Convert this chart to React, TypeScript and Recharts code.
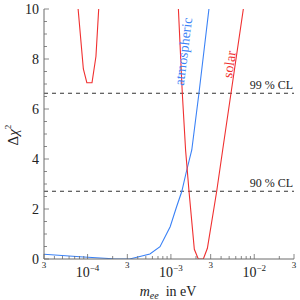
import React from 'react';
import { LineChart, Line, XAxis, YAxis, ReferenceLine } from 'recharts';

const FONT = "'Liberation Serif', 'Times New Roman', 'DejaVu Serif', serif";
const FRAME = '#6a6a6a';
const INK = '#222';

// chi^2 curves, m_ee in eV
const solarLowM = [7.7e-5, 8.9e-5, 9.8e-5, 1.13e-4, 1.26e-4, 1.36e-4];
const solarLowChi = [10, 7.6, 7.05, 7.05, 8.1, 10];

const solarM = [1.23e-3, 1.37e-3, 1.5e-3, 1.65e-3, 1.91e-3, 2.13e-3, 2.45e-3, 2.74e-3, 3.54e-3, 4.18e-3, 5.26e-3, 7.4e-3];
const solarChi = [10, 6.63, 4.36, 2.7, 0.39, 0, 0, 0.43, 2.7, 4.36, 6.63, 10];

const atmoM = [3e-5, 8.1e-5, 2.0e-4, 3.2e-4, 3.9e-4, 5.6e-4, 7.4e-4, 9.8e-4, 1.17e-3, 1.35e-3, 1.52e-3, 1.78e-3, 2.17e-3, 2.86e-3];
const atmoChi = [0.19, 0.09, 0.01, 0, 0.07, 0.2, 0.49, 1.29, 2.09, 2.7, 3.44, 4.36, 6.63, 10];

const cl99 = 6.63;
const cl90 = 2.71;

const xTicks = [
  3e-5, 4e-5, 5e-5, 6e-5, 7e-5, 8e-5, 9e-5,
  1e-4, 2e-4, 3e-4, 4e-4, 5e-4, 6e-4, 7e-4, 8e-4, 9e-4,
  1e-3, 2e-3, 3e-3, 4e-3, 5e-3, 6e-3, 7e-3, 8e-3, 9e-3,
  1e-2, 2e-2, 3e-2,
];
const yTicks = [0, 0.5, 1, 1.5, 2, 2.5, 3, 3.5, 4, 4.5, 5, 5.5, 6, 6.5, 7, 7.5, 8, 8.5, 9, 9.5, 10];

const toRows = (xs: number[], ys: number[]) => xs.map((m, i) => ({ m, chi: ys[i] }));

function mantissa(v: number) {
  const e = Math.floor(Math.log10(v) + 1e-9);
  return { e, m: Math.round(v / Math.pow(10, e)) };
}

// eslint-disable-next-line @typescript-eslint/no-explicit-any
function XTick(props: any) {
  const { x, y, payload, top } = props;
  const { e, m } = mantissa(payload.value);
  const major = m === 1 || m === 3;
  const len = major ? 5 : 3;
  const dir = top ? 1 : -1;
  return (
    <g>
      <line x1={x} y1={y} x2={x} y2={y + dir * len} stroke={FRAME} strokeWidth={0.8} />
      {!top && m === 3 && (
        <text x={x} y={y + 9} textAnchor="middle" fontSize={9} style={{ fontFamily: FONT }} fill={INK}>3</text>
      )}
      {!top && m === 1 && (
        <text x={x} y={y + 18} textAnchor="middle" fontSize={14} style={{ fontFamily: FONT }} fill={INK}>
          10<tspan dy={-6} fontSize={9}>{'\u2212' + Math.abs(e)}</tspan>
        </text>
      )}
    </g>
  );
}

// eslint-disable-next-line @typescript-eslint/no-explicit-any
function YTick(props: any) {
  const { x, y, payload, right } = props;
  const v = payload.value;
  const major = v % 2 === 0;
  const len = major ? 5 : 3;
  const dir = right ? -1 : 1;
  return (
    <g>
      <line x1={x} y1={y} x2={x + dir * len} y2={y} stroke={FRAME} strokeWidth={0.8} />
      {!right && major && (
        <text x={x - 5} y={y + 5} textAnchor="end" fontSize={14} style={{ fontFamily: FONT }} fill={INK}>{v}</text>
      )}
    </g>
  );
}

// eslint-disable-next-line @typescript-eslint/no-explicit-any
function ClLabel(props: any) {
  const { viewBox, value } = props;
  return (
    <text x={viewBox.x + viewBox.width - 1} y={viewBox.y - 4} textAnchor="end" fontSize={12} style={{ fontFamily: FONT }} fill={INK}>
      {value}
    </text>
  );
}

export default function App() {
  return (
    <div style={{ position: 'fixed', left: 0, top: 0, width: 300, height: 300, background: '#fff', fontFamily: FONT }}>
      <LineChart width={300} height={300} margin={{ top: 9, right: 6, bottom: 0, left: 0 }}>
        <XAxis
          xAxisId="b"
          dataKey="m"
          type="number"
          scale="log"
          domain={[3e-5, 3e-2]}
          allowDataOverflow
          ticks={xTicks}
          interval={0}
          height={41}
          tickSize={0}
          tickMargin={0}
          tickLine={false}
          axisLine={{ stroke: FRAME }}
          tick={<XTick />}
        />
        <XAxis
          xAxisId="t"
          orientation="top"
          dataKey="m"
          type="number"
          scale="log"
          domain={[3e-5, 3e-2]}
          allowDataOverflow
          ticks={xTicks}
          interval={0}
          height={0}
          tickSize={0}
          tickMargin={0}
          tickLine={false}
          axisLine={{ stroke: FRAME }}
          tick={<XTick top />}
        />
        <YAxis
          yAxisId="l"
          type="number"
          domain={[0, 10]}
          allowDataOverflow
          ticks={yTicks}
          interval={0}
          width={44}
          tickSize={0}
          tickMargin={0}
          tickLine={false}
          axisLine={{ stroke: FRAME }}
          tick={<YTick />}
        />
        <YAxis
          yAxisId="r"
          orientation="right"
          type="number"
          domain={[0, 10]}
          allowDataOverflow
          ticks={yTicks}
          interval={0}
          width={0}
          tickSize={0}
          tickMargin={0}
          tickLine={false}
          axisLine={{ stroke: FRAME }}
          tick={<YTick right />}
        />
        <ReferenceLine xAxisId="b" yAxisId="l" y={cl99} stroke="#333" strokeDasharray="4 4" label={<ClLabel value="99 % CL" />} />
        <ReferenceLine xAxisId="b" yAxisId="l" y={cl90} stroke="#333" strokeDasharray="4 4" label={<ClLabel value="90 % CL" />} />
        <Line xAxisId="b" yAxisId="l" data={toRows(atmoM, atmoChi)} dataKey="chi" type="linear" stroke="#3b82f6" strokeWidth={1.1} dot={false} isAnimationActive={false} />
        <Line xAxisId="b" yAxisId="l" data={toRows(solarLowM, solarLowChi)} dataKey="chi" type="linear" stroke="#f03030" strokeWidth={1.1} dot={false} isAnimationActive={false} />
        <Line xAxisId="b" yAxisId="l" data={toRows(solarM, solarChi)} dataKey="chi" type="linear" stroke="#f03030" strokeWidth={1.1} dot={false} isAnimationActive={false} />
      </LineChart>
      <svg width={300} height={300} style={{ position: 'absolute', left: 0, top: 0, pointerEvents: 'none', fontFamily: FONT }}>
        <text transform="translate(18,135) rotate(-90)" textAnchor="middle" fontSize={15} fill={INK}>
          Δ<tspan fontStyle="italic">χ</tspan><tspan dy={-7} fontSize={9}>2</tspan>
        </text>
        <text x={168} y={296} textAnchor="middle" fontSize={14} fill={INK}>
          <tspan fontStyle="italic">m</tspan><tspan fontStyle="italic" fontSize={10} dy={3}>ee</tspan><tspan dy={-3}>{'\u00a0 in eV'}</tspan>
        </text>
        <text transform="translate(188,52) rotate(-83)" textAnchor="middle" fontSize={14} fill="#3b82f6">atmospheric</text>
        <text transform="translate(234,65) rotate(-82)" textAnchor="middle" fontSize={14} fill="#f03030">solar</text>
      </svg>
    </div>
  );
}
